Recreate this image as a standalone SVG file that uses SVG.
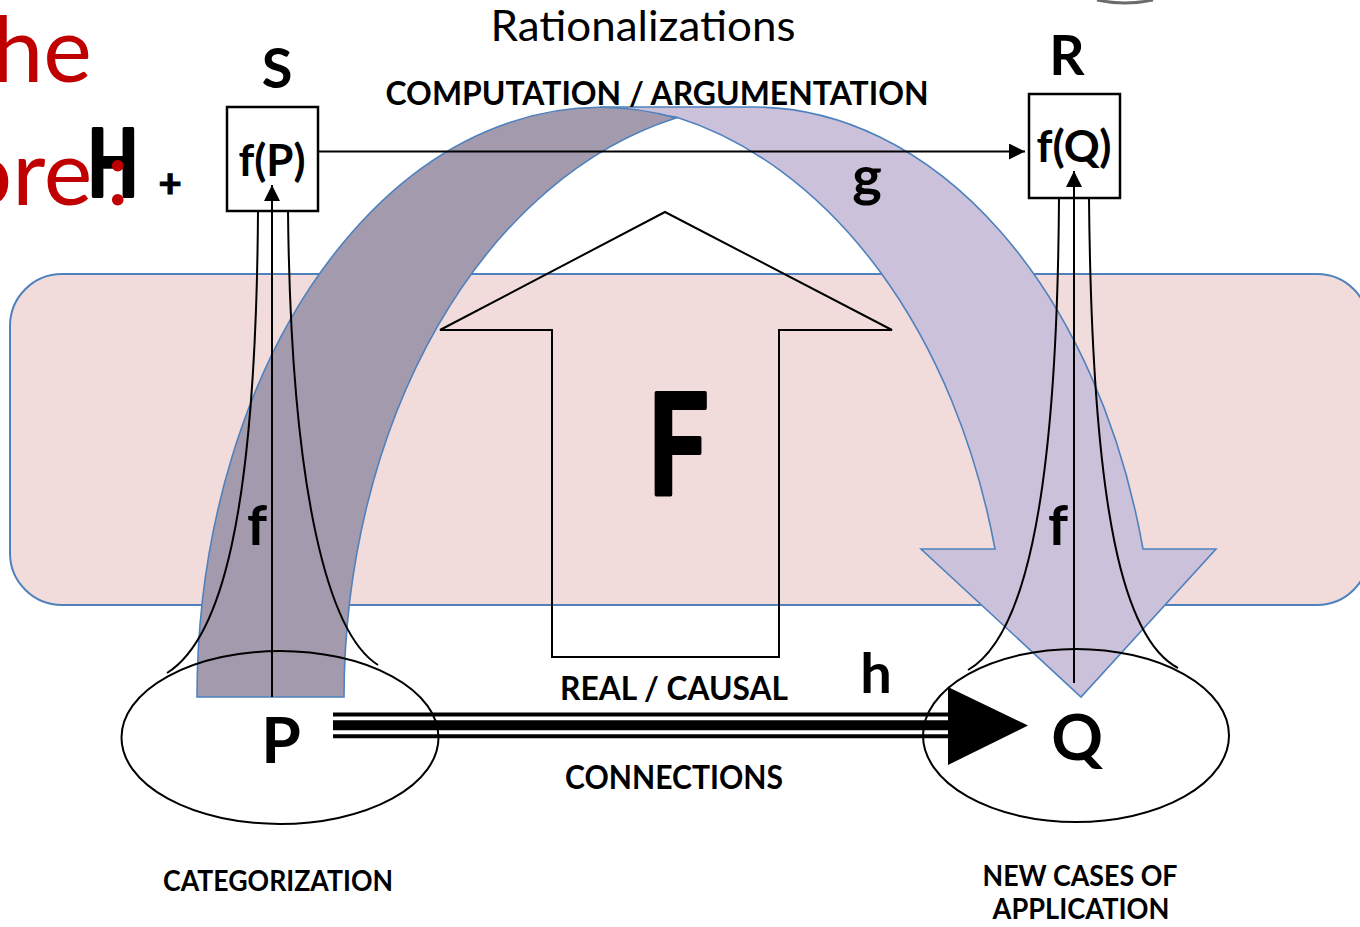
<svg xmlns="http://www.w3.org/2000/svg" width="1360" height="927" viewBox="0 0 1360 927">
<defs>
<style>
.b{font-family:Lato,"Liberation Sans",sans-serif;font-weight:700;fill:#000}
.r{font-family:Lato,"Liberation Sans",sans-serif;font-weight:400;fill:#000}
.red{font-family:Lato,"Liberation Sans",sans-serif;font-weight:400;fill:#C00000;font-size:92px}
.ln{fill:none;stroke:#000;stroke-width:2}
.band{stroke:#4F81BD;stroke-width:1.6}
</style>
<marker id="ah" markerWidth="16" markerHeight="16" viewBox="0 0 16 16" refX="16" refY="8" orient="auto" markerUnits="userSpaceOnUse">
<path d="M0,0 L16,8 L0,16 Z" fill="#000"/>
</marker>
</defs>
<rect width="1360" height="927" fill="#fff"/>
<path d="M1097,0 Q1125,6 1153,0" fill="none" stroke="#6b6b6b" stroke-width="3"/>

<g id="H-label">
<text class="b" x="113" y="196" font-size="92" text-anchor="middle" textLength="50" lengthAdjust="spacingAndGlyphs" stroke="#000" stroke-width="4" stroke-linejoin="round">H</text>
<text class="b" x="170" y="197" font-size="40" text-anchor="middle" stroke="#000" stroke-width="1.2">+</text>
</g>
<g id="red-title">
<text class="red" x="-8" y="82">he</text>
<text class="red" x="-40" y="205">ore<tspan dx="14">:</tspan></text>
</g>

<g id="layer-box">
<rect x="10" y="274" width="1359" height="331" rx="52" ry="52" fill="#F2DCDB" stroke="#4F81BD" stroke-width="2"/>
</g>

<g id="F-arrow">
<path d="M440,330 L665,212 L892,330 L779,330 L779,657 L552,657 L552,330 Z" class="ln"/>
<text class="b" x="678" y="494" font-size="140" text-anchor="middle" textLength="61" lengthAdjust="spacingAndGlyphs" stroke="#000" stroke-width="4" stroke-linejoin="round">F</text>
</g>

<g id="g-arrow">
<path class="band" fill="#CCC1DA" d="M600,107 L753,107 A403 590 0 0 1 1143,549 L1216,549 L1081,697 L921,549 L995,549 A426 595 0 0 0 676,117 Z"/>
<path class="band" fill="#A39BAD" d="M197,697 A403 590 0 0 1 676,118 A426 595 0 0 0 344,697 Z"/>
<text class="b" x="867" y="196" font-size="56" text-anchor="middle">g</text>
</g>

<g id="node-S">
<text class="b" x="277" y="88" font-size="56" text-anchor="middle">S</text>
<rect x="227" y="107" width="91" height="104" fill="#fff" stroke="#000" stroke-width="2.5"/>
<text class="b" x="272" y="176" font-size="44" text-anchor="middle" textLength="67" lengthAdjust="spacingAndGlyphs">f(P)</text>
</g>

<g id="node-R">
<text class="b" x="1067" y="75" font-size="55" text-anchor="middle">R</text>
<rect x="1029" y="94" width="91" height="104" fill="#fff" stroke="#000" stroke-width="2.5"/>
<text class="b" x="1074" y="162" font-size="44" text-anchor="middle" textLength="75" lengthAdjust="spacingAndGlyphs">f(Q)</text>
</g>

<g id="node-P">
<ellipse cx="280" cy="737.5" rx="158.5" ry="86.5" fill="none" stroke="#000" stroke-width="2"/>
<text class="b" x="281" y="763" font-size="64" text-anchor="middle">P</text>
<text class="b" x="278" y="891" font-size="28" text-anchor="middle" textLength="230" lengthAdjust="spacingAndGlyphs">CATEGORIZATION</text>
</g>

<g id="node-Q">
<ellipse cx="1076" cy="735.5" rx="153" ry="86.5" fill="none" stroke="#000" stroke-width="2"/>
<text class="b" x="1077" y="760" font-size="64" text-anchor="middle">Q</text>
<text class="b" x="1080" y="886" font-size="28" text-anchor="middle" textLength="195" lengthAdjust="spacingAndGlyphs">NEW CASES OF</text>
<text class="b" x="1081" y="919" font-size="28" text-anchor="middle" textLength="177" lengthAdjust="spacingAndGlyphs">APPLICATION</text>
</g>

<g id="connectors">
<line x1="318" y1="151.5" x2="1025" y2="151.5" stroke="#000" stroke-width="2" marker-end="url(#ah)"/>
<line x1="333" y1="714.5" x2="950" y2="714.5" stroke="#000" stroke-width="4"/>
<line x1="333" y1="725.3" x2="950" y2="725.3" stroke="#000" stroke-width="10"/>
<line x1="333" y1="736.3" x2="950" y2="736.3" stroke="#000" stroke-width="4"/>
<path d="M948,687 L1028,725.5 L948,765 Z" fill="#000"/>
<path class="ln" d="M258,211 C256,520 220,640 167,673"/>
<path class="ln" d="M288,211 C291,500 330,635 378,665"/>
<line x1="272" y1="697" x2="272" y2="185" stroke="#000" stroke-width="2" marker-end="url(#ah)"/>
<path class="ln" d="M1059,198 C1057,520 1020,640 968,670"/>
<path class="ln" d="M1089,198 C1092,520 1125,640 1178,668"/>
<line x1="1074" y1="683" x2="1074" y2="171" stroke="#000" stroke-width="2" marker-end="url(#ah)"/>
</g>

<g id="labels">
<text class="r" x="643" y="41" font-size="42" text-anchor="middle" textLength="305" lengthAdjust="spacingAndGlyphs">Rationalizations</text>
<text class="b" x="657" y="105" font-size="33" text-anchor="middle" textLength="543" lengthAdjust="spacingAndGlyphs">COMPUTATION / ARGUMENTATION</text>
<text class="b" x="257" y="545" font-size="56" text-anchor="middle">f</text>
<text class="b" x="1058" y="545" font-size="56" text-anchor="middle">f</text>
<text class="b" x="876" y="693" font-size="56" text-anchor="middle">h</text>
<text class="b" x="674" y="700" font-size="33" text-anchor="middle" textLength="228" lengthAdjust="spacingAndGlyphs">REAL / CAUSAL</text>
<text class="b" x="674" y="789" font-size="33" text-anchor="middle" textLength="218" lengthAdjust="spacingAndGlyphs">CONNECTIONS</text>
</g>
</svg>
